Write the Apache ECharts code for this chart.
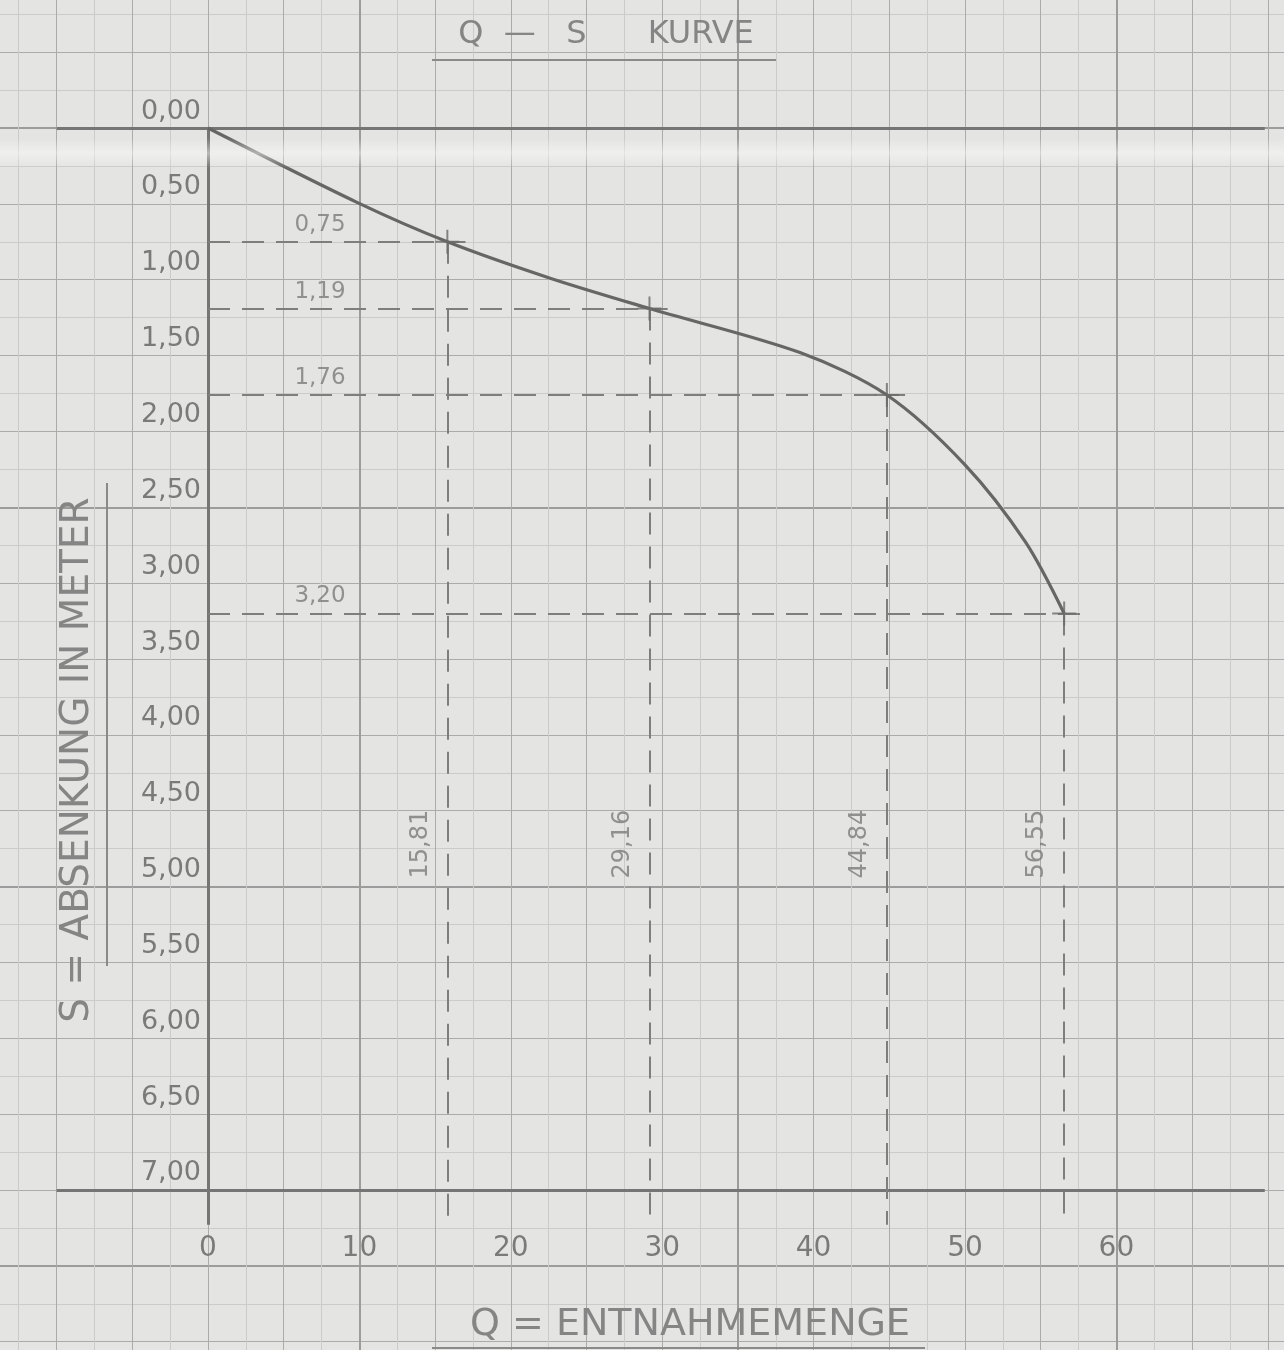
<!DOCTYPE html>
<html>
<head>
<meta charset="utf-8">
<script src="https://cdn.jsdelivr.net/npm/echarts@6/dist/echarts.min.js"></script>
<style>
html,body{margin:0;padding:0;background:#e4e4e2;}
#chart{width:1284px;height:1350px;}
</style>
</head>
<body>
<div id="chart"></div>
<script>
// ---------------- data ----------------
const Q_MEASURED = [15.81, 29.16, 44.84, 56.55];   // Entnahmemenge
const S_MEASURED = [0.75, 1.19, 1.76, 3.20];       // Absenkung in Meter
const CURVE_Q = [0, 9.84, 15.81, 22.6, 29.16, 39.1, 44.84, 50.0, 54.0, 56.55];
const CURVE_S = [0, 0.49, 0.75, 0.99, 1.19, 1.48, 1.76, 2.22, 2.73, 3.20];
const X_TICK_LABELS = [0, 10, 20, 30, 40, 50, 60];
const Y_TICK_LABELS = [0, 0.5, 1, 1.5, 2, 2.5, 3, 3.5, 4, 4.5, 5, 5.5, 6, 6.5, 7];
const TITLE_TEXT = 'Q  —   S      KURVE';
const X_NAME = 'Q = ENTNAHMEMENGE';
const Y_NAME = 'S = ABSENKUNG IN METER';

// ---------------- layout (sheet geometry) ----------------
const W = 1284, H = 1350;
const ORIGIN_X = 208, ORIGIN_Y = 128;
const PX_Q = 15.14, PX_S = 151.71;
const X_MIN = -15, X_MAX = 75, Y_MIN = -2.5, Y_MAX = 10;
const gridLeft = ORIGIN_X + X_MIN * PX_Q;
const gridRight = W - (ORIGIN_X + X_MAX * PX_Q);
const gridTop = ORIGIN_Y + Y_MIN * PX_S;
const gridBottomPx = ORIGIN_Y + Y_MAX * PX_S;
const gridBottom = H - gridBottomPx;
const S_AXIS_END = 7.23;         // foot of the drawn axis / drop lines
const FRAME_Q = [-10, 69.8];     // extent of the drawn horizontal axis lines
const LABEL_Q = 7.4;             // where the S labels sit along the dashed lines
const QLABEL_S = 4.72;           // where the Q labels sit along the drop lines

const FONT = "'DejaVu Sans', sans-serif";
const INK = '#7a7a7a';
const fmt = v => v.toFixed(2).replace('.', ',');
const near = (arr, v) => arr.some(t => Math.abs(t - v) < 1e-6);

const curveData = CURVE_Q.map((q, i) => [q, CURVE_S[i]]);
const pointData = Q_MEASURED.map((q, i) => [q, S_MEASURED[i]]);
const guideData = [];
Q_MEASURED.forEach((q, i) => {
  const s = S_MEASURED[i];
  guideData.push({coords: [[0, s], [q + 1.2, s]]});
  guideData.push({coords: [[q, s], [q, S_AXIS_END]]});
});
const frameData = [
  {coords: [[FRAME_Q[0], 0], [FRAME_Q[1], 0]]},
  {coords: [[FRAME_Q[0], 7], [FRAME_Q[1], 7]]},
  {coords: [[0, 0], [0, S_AXIS_END]]}
];

const PLUS = 'path://M11,0H13V11H24V13H13V24H11V13H0V11H11Z';

const chart = echarts.init(document.getElementById('chart'), null, {renderer: 'canvas'});
chart.setOption({
  backgroundColor: '#e4e4e2',
  animation: false,
  grid: {left: gridLeft, right: gridRight, top: gridTop, bottom: gridBottom, containLabel: false, outerBoundsMode: 'none'},
  xAxis: [
    {
      type: 'value', min: X_MIN, max: X_MAX, interval: 5, position: 'bottom',
      offset: -(gridBottomPx - (ORIGIN_Y + S_AXIS_END * PX_S)),
      axisLine: {show: false}, axisTick: {show: false},
      minorTick: {show: false, splitNumber: 2},
      axisLabel: {
        show: true, margin: 10, fontSize: 28, fontFamily: FONT, color: INK,
        formatter: v => near(X_TICK_LABELS, v) ? String(v) : ''
      },
      splitLine: {show: true, lineStyle: {color: '#ababab', width: 1}},
      minorSplitLine: {show: true, lineStyle: {color: '#cbcbc9', width: 1}}
    },
    {
      type: 'value', min: 0, max: X_MAX - X_MIN, interval: 25, position: 'top',
      axisLine: {show: false}, axisTick: {show: false}, axisLabel: {show: false},
      splitLine: {show: true, lineStyle: {color: '#9c9c9c', width: 2}}
    }
  ],
  yAxis: [
    {
      type: 'value', inverse: true, min: Y_MIN, max: Y_MAX, interval: 0.5, position: 'left',
      offset: -(ORIGIN_X - gridLeft),
      axisLine: {show: false}, axisTick: {show: false},
      minorTick: {show: false, splitNumber: 2},
      axisLabel: {
        show: true, margin: 7, fontSize: 27, fontFamily: FONT, color: INK,
        verticalAlign: 'bottom', padding: [0, 0, 3, 0],
        formatter: v => near(Y_TICK_LABELS, v) ? fmt(v) : ''
      },
      splitLine: {show: true, lineStyle: {color: '#ababab', width: 1}},
      minorSplitLine: {show: true, lineStyle: {color: '#cbcbc9', width: 1}}
    },
    {
      type: 'value', inverse: true, min: Y_MIN, max: Y_MAX, interval: 2.5, position: 'right',
      axisLine: {show: false}, axisTick: {show: false}, axisLabel: {show: false},
      splitLine: {show: true, lineStyle: {color: '#9c9c9c', width: 2}}
    }
  ],
  series: [
    {
      type: 'lines', coordinateSystem: 'cartesian2d', xAxisIndex: 0, yAxisIndex: 0,
      silent: true, z: 3, data: frameData,
      lineStyle: {color: '#757575', width: 3, opacity: 1}
    },
    {
      type: 'lines', coordinateSystem: 'cartesian2d', xAxisIndex: 0, yAxisIndex: 0,
      silent: true, z: 3, data: guideData,
      lineStyle: {color: '#7e7e7e', width: 2, opacity: 1, type: [22, 12]}
    },
    {
      name: 'Q-S Kurve', type: 'line', xAxisIndex: 0, yAxisIndex: 0, z: 5,
      data: curveData, smooth: 0.3, showSymbol: false,
      lineStyle: {color: '#666666', width: 3.2}
    },
    {
      type: 'scatter', xAxisIndex: 0, yAxisIndex: 0, z: 6,
      data: pointData, symbol: PLUS, symbolSize: 24,
      itemStyle: {color: '#6a6a6a'}
    },
    {
      type: 'scatter', xAxisIndex: 0, yAxisIndex: 0, z: 6,
      data: S_MEASURED.map(s => [LABEL_Q, s]), symbolSize: 1,
      itemStyle: {color: 'rgba(0,0,0,0)'},
      label: {
        show: true, position: 'top', distance: 5, fontSize: 23, fontFamily: FONT, color: INK,
        formatter: p => fmt(p.value[1])
      }
    },
    {
      type: 'scatter', xAxisIndex: 0, yAxisIndex: 0, z: 6,
      data: Q_MEASURED.map(q => [q, QLABEL_S]), symbolSize: 1,
      itemStyle: {color: 'rgba(0,0,0,0)'},
      label: {
        show: true, position: 'inside', rotate: 90, offset: [0, -27],
        align: 'center', verticalAlign: 'middle',
        fontSize: 24, fontFamily: FONT, color: INK,
        formatter: p => fmt(p.value[0])
      }
    }
  ],
  graphic: [
    {type: 'rect', silent: true, z: 100, shape: {x: 0, y: 138, width: W, height: 30},
     style: {fill: {type: 'linear', x: 0, y: 0, x2: 0, y2: 1, colorStops: [
       {offset: 0, color: 'rgba(250,250,250,0)'},
       {offset: 0.5, color: 'rgba(250,250,250,0.5)'},
       {offset: 1, color: 'rgba(250,250,250,0)'}]}}},
    {type: 'text', silent: true, z: 100, x: 606, y: 35,
     style: {text: TITLE_TEXT, fontSize: 32, fontFamily: FONT, fill: '#858585', align: 'center', verticalAlign: 'middle'}},
    {type: 'line', silent: true, z: 100, shape: {x1: 432, y1: 60, x2: 776, y2: 60}, style: {stroke: '#8a8a8a', lineWidth: 2}},
    {type: 'text', silent: true, z: 100, x: 690, y: 1325,
     style: {text: X_NAME, fontSize: 38, fontFamily: FONT, fill: '#858585', align: 'center', verticalAlign: 'middle'}},
    {type: 'line', silent: true, z: 100, shape: {x1: 432, y1: 1348, x2: 925, y2: 1348}, style: {stroke: '#8a8a8a', lineWidth: 2}},
    {type: 'text', silent: true, z: 100, x: 78, y: 760, rotation: Math.PI / 2,
     style: {text: Y_NAME, fontSize: 39, fontFamily: FONT, fill: '#858585', align: 'center', verticalAlign: 'middle'}},
    {type: 'line', silent: true, z: 100, shape: {x1: 107, y1: 483, x2: 107, y2: 966}, style: {stroke: '#8a8a8a', lineWidth: 2}}
  ]
});
</script>
</body>
</html>
